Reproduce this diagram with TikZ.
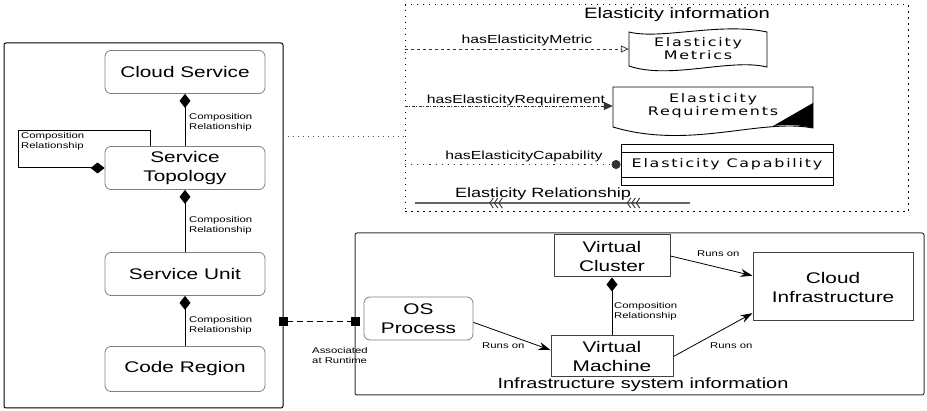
\documentclass[tikz,border=0pt]{standalone}
\usepackage{fontspec}
\setmainfont[FakeStretch=1.35]{Liberation Sans}
\newfontfamily\elfont[FakeStretch=1.35,LetterSpace=15]{DejaVu Sans}
\usetikzlibrary{positioning}
\usetikzlibrary{arrows.meta}
\usetikzlibrary{decorations.markings}

\tikzset{
	roundbox/.style = {draw = black!50, rounded corners = 6pt, line width = 0.8pt, minimum width = 160pt, minimum height = 43pt, align = center, inner sep = 0pt, font = \fontsize{15.4}{19}\selectfont},
	plainbox/.style = {draw = black!75, line width = 1pt, align = center, inner sep = 0pt, font = \fontsize{15.4}{19}\selectfont},
	framebox/.style = {draw = black, line width = 1pt, inner sep = 0pt},
	smalllabel/.style = {align = left, anchor = west, inner sep = 0pt, font = \fontsize{8.4}{10}\selectfont},
	haslabel/.style = {inner sep = 0pt, font = \fontsize{11.7}{13}\selectfont},
	eltext/.style = {align = center, inner sep = 0pt, font = \elfont\fontsize{11.8}{13}\selectfont},
	comp/.style = {black, line width = 1pt, {Diamond[length = 14pt, width = 11pt]}-},
	runs/.style = {black, line width = 0.8pt, -{Stealth[length = 12pt, width = 8pt]}},
	chevrons/.tip = {Straight Barb[length = 3.5pt, width = 10pt, line width = 0.9pt] Straight Barb[length = 3.5pt, width = 10pt, line width = 0.9pt] Straight Barb[length = 3.5pt, width = 10pt, line width = 0.9pt]},
}

\begin{document}
\begin{tikzpicture}[x = 1pt, y = -1pt]
	\useasboundingbox (0, 0) rectangle (927, 411);
	% service side
	\node[framebox, rounded corners = 2pt, minimum width = 279pt, minimum height = 365pt] (svcbox) at (143.5, 225.5) {};
	\node[roundbox] (cloudsvc) at (185, 72) {Cloud Service};
	\node[roundbox] (topology) at (185, 168) {Service\\Topology};
	\node[roundbox] (unit) at (185, 274) {Service Unit};
	\node[roundbox, minimum height = 45pt] (coderegion) at (185, 369) {Code Region};
	\draw[comp] (cloudsvc.south) -- (topology.north);
	\draw[comp] (topology.south) -- (unit.north);
	\draw[comp] (unit.south) -- (coderegion.north);
	\coordinate (loopcorner) at (150, 131);
	\draw[comp] (topology.west) -- (18, 168) -- (18, 131) -- (loopcorner) -- (loopcorner |- topology.north);
	\node[smalllabel] (comp1) at (189, 122) {Composition\\Relationship};
	\node[smalllabel] (comp2) at (189, 225) {Composition\\Relationship};
	\node[smalllabel] (comp3) at (189, 325) {Composition\\Relationship};
	\node[smalllabel] (comp4) at (21, 141) {Composition\\Relationship};

	% elasticity information
	\node[framebox, dash pattern = on 1.5pt off 4.5pt, minimum width = 503pt, minimum height = 207pt] (elbox) at (656.5, 108.5) {};
	\node[inner sep = 0pt, font = \fontsize{15}{17}\selectfont] (eltitle) at (677, 15) {Elasticity information};
	\coordinate (elattach) at (405, 136);
	\draw[black!70, line width = 0.9pt, dash pattern = on 1pt off 4pt, shorten <= 4pt] (svcbox.east |- elattach) -- (elattach);

	\node[eltext, minimum width = 138pt, minimum height = 34pt] (metrics) at (698, 49) {Elasticity\\Metrics};
	\draw[black, line width = 0.9pt] (629, 32) .. controls (660, 40) and (720, 22) .. (767, 32) -- (767, 67) .. controls (730, 58) and (670, 80) .. (629, 66) -- cycle;

	\node[eltext, minimum width = 200pt, minimum height = 40pt] (requirement) at (713, 106) {Elasticity\\Requirements};
	\draw[black, line width = 0.9pt] (613, 87) -- (813, 87) -- (813, 128) .. controls (760, 118) and (690, 150) .. (613, 127) -- cycle;
	\fill[black] (813, 103) -- (813, 128) .. controls (800, 125) and (788, 124) .. (773, 126) -- cycle;

	\node[eltext, draw = black, line width = 0.9pt, minimum width = 212pt, minimum height = 41pt] (capability) at (727, 164.5) {Elasticity Capability};
	\draw[black, line width = 0.9pt] (621, 152) -- (833, 152);
	\draw[black, line width = 0.9pt] (621, 177) -- (833, 177);

	\draw[black!80, dashed, line width = 0.8pt, -{Triangle[open, length = 8pt, width = 7pt]}] (elbox.west |- metrics.west) -- (metrics.west);
	\node[haslabel] (hasmetric) at (527, 40) {hasElasticityMetric};
	\draw[black!80, line width = 0.8pt, dash pattern = on 3pt off 1.5pt on 1pt off 1.5pt, -{Triangle[length = 9pt, width = 8pt]}] (elbox.west |- requirement.west) -- (requirement.west);
	\node[haslabel] (hasrequirement) at (516, 100) {hasElasticityRequirement};
	\draw[black!80, line width = 0.9pt, dash pattern = on 1.2pt off 5pt, -{Circle[length = 9pt]}] (elbox.west |- capability.west) -- (capability.west);
	\node[haslabel] (hascapability) at (524, 156) {hasElasticityCapability};

	\coordinate (relstart) at (415, 203);
	\coordinate (relend) at (690, 203);
	\draw[black!60, line width = 1.2pt, postaction = {decorate}, decoration = {markings,
		mark = at position 0.27 with {\arrowreversed[black!80]{chevrons}},
		mark = at position 0.77 with {\arrowreversed[black!80]{chevrons}}}] (relstart) -- (relend);
	\node[inner sep = 0pt, font = \fontsize{13.4}{15}\selectfont] (rellabel) at (543, 194) {Elasticity Relationship};

	% infrastructure system information
	\node[framebox, draw = black!80, rounded corners = 2pt, minimum width = 569pt, minimum height = 162pt] (infrabox) at (639.5, 314) {};
	\node[roundbox, minimum width = 109pt] (osproc) at (418.5, 318.5) {OS\\Process};
	\node[plainbox, minimum width = 116pt, minimum height = 42pt] (vcluster) at (612, 256) {Virtual\\Cluster};
	\node[plainbox, minimum width = 122pt, minimum height = 41pt] (vmachine) at (612, 356.5) {Virtual\\Machine};
	\node[plainbox, minimum width = 160pt, minimum height = 68pt] (cloudinfra) at (833, 287) {Cloud\\Infrastructure};
	\node[inner sep = 0pt, font = \fontsize{14.8}{17}\selectfont] (infratitle) at (643, 385) {Infrastructure system information};

	\draw[runs] (osproc.-4) -- (vmachine.174);
	\draw[runs] (vcluster.east) -- (cloudinfra.172);
	\draw[runs] (vmachine.east) -- (cloudinfra.-162);
	\draw[comp] (vcluster.south) -- (vmachine.north);
	\node[smalllabel] (runs1) at (482, 346) {Runs on};
	\node[smalllabel] (runs2) at (697, 254) {Runs on};
	\node[smalllabel] (runs3) at (710, 346) {Runs on};
	\node[smalllabel] (comp5) at (614, 311) {Composition\\Relationship};

	% association
	\coordinate (runtime) at (0, 322);
	\draw[black, line width = 1pt, dash pattern = on 6pt off 4pt, shorten <= -5pt, shorten >= -5pt, {Square[length = 9pt, width = 9pt]}-{Square[length = 9pt, width = 9pt]}] (svcbox.east |- runtime) -- (infrabox.west |- runtime);
	\node[smalllabel] (assoc) at (312, 355) {Associated\\at Runtime};
\end{tikzpicture}
\end{document}
